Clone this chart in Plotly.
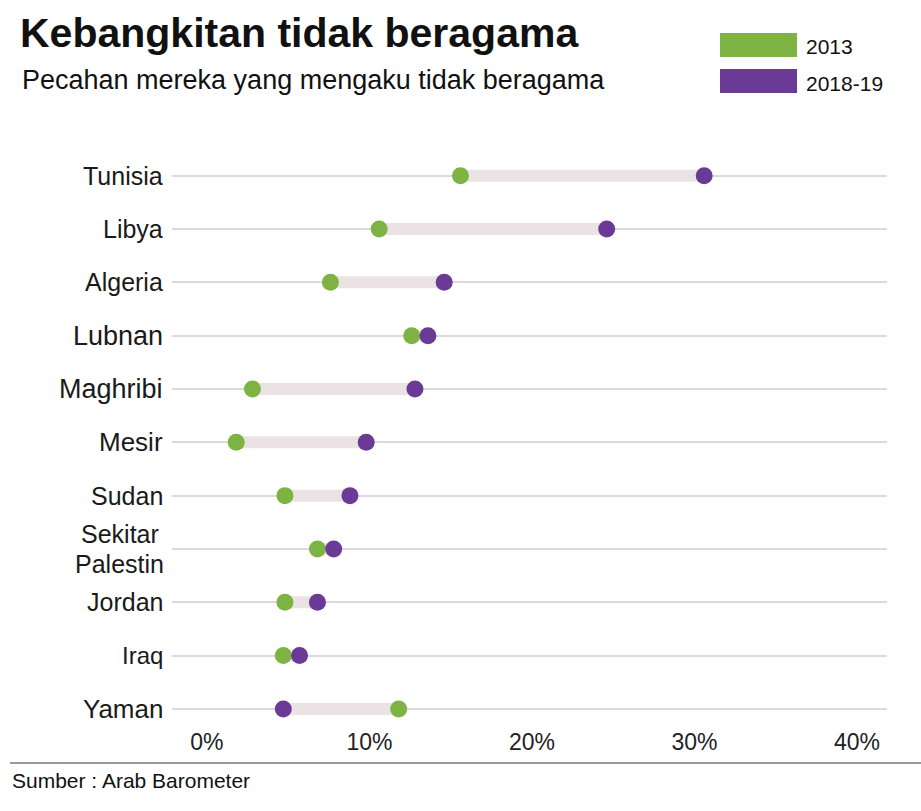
import plotly.graph_objects as go

countries = ["Tunisia", "Libya", "Algeria", "Lubnan", "Maghribi", "Mesir",
             "Sudan", "Sekitar Palestin", "Jordan", "Iraq", "Yaman"]
v2013 = [15.6, 10.6, 7.6, 12.6, 2.8, 1.8, 4.8, 6.8, 4.8, 4.7, 11.8]
v2018 = [30.6, 24.6, 14.6, 13.6, 12.8, 9.8, 8.8, 7.8, 6.8, 5.7, 4.7]
xticks = [0, 10, 20, 30, 40]
xticklabels = ["0%", "10%", "20%", "30%", "40%"]
label_sizes = [25, 25, 25, 27, 27, 26, 25, 25, 25, 24, 26]

GREEN = "#7cb342"
PURPLE = "#6b3a96"
CONN = "#ebe3e3"
FONT = "Liberation Sans, Arial, sans-serif"

n = len(countries)
ypos = [n - 1 - i for i in range(n)]

fig = go.Figure()
for i in range(n):
    fig.add_trace(go.Scatter(
        x=[v2013[i], v2018[i]], y=[ypos[i], ypos[i]], mode="lines",
        line=dict(color=CONN, width=12), hoverinfo="skip", showlegend=False))

fig.add_trace(go.Scatter(x=v2013, y=ypos, mode="markers", name="2013",
                         marker=dict(color=GREEN, size=17), showlegend=False))
fig.add_trace(go.Scatter(x=v2018, y=ypos, mode="markers", name="2018-19",
                         marker=dict(color=PURPLE, size=17), showlegend=False))

fig.update_layout(
    width=921, height=811,
    margin=dict(l=172, r=34, t=149, b=85),
    paper_bgcolor="white", plot_bgcolor="white",
    font=dict(family=FONT, color="#1a1a1a"),
    xaxis=dict(range=[-2.15, 41.85], tickvals=xticks, ticktext=xticklabels,
               showgrid=False, zeroline=False, showline=False,
               tickfont=dict(size=23, color="#222")),
    yaxis=dict(range=[-0.32, 10.5], tickvals=ypos, showticklabels=False,
               showgrid=True, gridcolor="#ddd7e0", gridwidth=1.5,
               zeroline=False, showline=False, ticks=""),
)

# Category labels
PX = 715.0
PY = 577.0
label_x = (165 - 172) / PX
for i, name in enumerate(countries):
    parts = name.split(" ") if name == "Sekitar Palestin" else [name]
    if len(parts) == 1:
        fig.add_annotation(text=name, xref="paper", yref="y", x=label_x, y=ypos[i],
                           xanchor="right", yanchor="middle", showarrow=False,
                           font=dict(size=label_sizes[i], color="#1a1a1a", family=FONT))
    else:
        off = 15 / 53.3
        fig.add_annotation(text=parts[0], xref="paper", yref="y", x=(160 - 172) / PX,
                           y=ypos[i] + off, xanchor="right", yanchor="middle", showarrow=False,
                           borderpad=0,
                           font=dict(size=label_sizes[i], color="#1a1a1a", family=FONT))
        fig.add_annotation(text=parts[1], xref="paper", yref="y", x=label_x,
                           y=ypos[i] - off, xanchor="right", yanchor="middle", showarrow=False,
                           borderpad=0,
                           font=dict(size=label_sizes[i], color="#1a1a1a", family=FONT))

# Title and subtitle
fig.add_annotation(text="<b>Kebangkitan tidak beragama</b>", xref="paper", yref="paper",
                   x=(18 - 172) / PX, y=1 + (149 - 33) / PY, xanchor="left", yanchor="middle",
                   showarrow=False, font=dict(size=41, color="#111", family=FONT))
fig.add_annotation(text="Pecahan mereka yang mengaku tidak beragama", xref="paper", yref="paper",
                   x=(20 - 172) / PX, y=1 + (149 - 80) / PY, xanchor="left", yanchor="middle",
                   showarrow=False, font=dict(size=27, color="#111", family=FONT))

# Legend
legend_items = [("2013", GREEN, 45), ("2018-19", PURPLE, 81)]
for label, col, yc in legend_items:
    fig.add_shape(type="rect", xref="paper", yref="paper",
                  x0=(720 - 172) / PX, x1=(797 - 172) / PX,
                  y0=1 + (149 - (yc + 12)) / PY, y1=1 + (149 - (yc - 12)) / PY,
                  fillcolor=col, line=dict(width=0))
    fig.add_annotation(text=label, xref="paper", yref="paper",
                       x=(804 - 172) / PX, y=1 + (149 - (yc + 2)) / PY,
                       xanchor="left", yanchor="middle", showarrow=False,
                       font=dict(size=21, color="#111", family=FONT))

# Footer
fig.add_shape(type="line", xref="paper", yref="paper",
              x0=(10 - 172) / PX, x1=(921 - 172) / PX,
              y0=-(763 - 726) / PY, y1=-(763 - 726) / PY,
              line=dict(color="#999", width=2))
fig.add_annotation(text="Sumber : Arab Barometer", xref="paper", yref="paper",
                   x=(10 - 172) / PX, y=-(780 - 726) / PY, xanchor="left", yanchor="middle",
                   showarrow=False, font=dict(size=21, color="#111", family=FONT))

fig.write_html("out.html")
